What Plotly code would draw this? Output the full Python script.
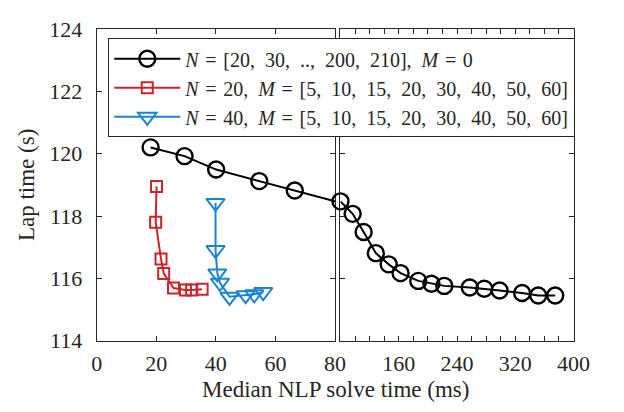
import numpy as np
import plotly.graph_objects as go

# ---- data ----
black_x = [18.1, 29.5, 40.1, 54.6, 66.5, 80.0, 96.7, 111.8, 128.5, 146.2, 162.5,
           186.8, 204.9, 222.5, 257.5, 277.4, 298.5, 329.4, 351.5, 374.8]
black_y = [120.2, 119.92, 119.49, 119.12, 118.82, 118.47, 118.07, 117.49, 116.81,
           116.45, 116.17, 115.92, 115.83, 115.76, 115.71, 115.67, 115.61, 115.53,
           115.45, 115.45]

red_x = [20.1, 19.8, 21.6, 22.5, 25.8, 29.8, 31.9, 35.4]
red_y = [118.95, 117.8, 116.62, 116.16, 115.69, 115.63, 115.63, 115.65]

blue_x = [39.9, 39.9, 40.5, 41.4, 44.6, 50.0, 52.9, 55.9]
blue_y = [118.42, 116.91, 116.16, 115.86, 115.41, 115.46, 115.49, 115.56]

EN = "\u2002"   # en space (math-like wide spacing)
TH = "\u2004"   # three-per-em space
labels = [f"<i>N</i>{TH}={TH}[20,{EN}30,{EN}..,{EN}200,{EN}210],{EN}<i>M</i>{TH}={TH}0",
          f"<i>N</i>{TH}={TH}20,{EN}<i>M</i>{TH}={TH}[5,{EN}10,{EN}15,{EN}20,{EN}30,{EN}40,{EN}50,{EN}60]",
          f"<i>N</i>{TH}={TH}40,{EN}<i>M</i>{TH}={TH}[5,{EN}10,{EN}15,{EN}20,{EN}30,{EN}40,{EN}50,{EN}60]"]

left_ticks = [0, 20, 40, 60, 80]
right_ticks = [160, 240, 320, 400]
y_ticks = [114, 116, 118, 120, 122, 124]

# ---- styles ----
W, H = 624, 412
TXT = "#262626"
BLACK = "#000000"
RED = "#CC2229"
BLUE = "#1B84D2"
FONT = "Liberation Serif"

bx = np.array(black_x)
by = np.array(black_y)
right_mask = bx >= 80
left_opacity = np.where(bx < 80, 1.0, 0.0)

circle = dict(symbol="circle-open", size=16, color=BLACK, line=dict(width=2.4, color=BLACK))
square = dict(symbol="square-open", size=11, color=RED, line=dict(width=2, color=RED))
tri = dict(symbol="triangle-down-open", size=16, color=BLUE, line=dict(width=2, color=BLUE))

fig = go.Figure()
# legend entries (no data drawn)
for name, col, mk in [(labels[0], BLACK, circle), (labels[1], RED, square), (labels[2], BLUE, tri)]:
    fig.add_trace(go.Scatter(x=[None], y=[None], mode="lines+markers", name=name,
                             line=dict(color=col, width=2), marker=mk,
                             xaxis="x", yaxis="y"))

fig.add_trace(go.Scatter(x=black_x, y=black_y, mode="lines+markers", showlegend=False,
                         line=dict(color=BLACK, width=2),
                         marker=dict(circle, opacity=left_opacity),
                         xaxis="x", yaxis="y"))
fig.add_trace(go.Scatter(x=red_x, y=red_y, mode="lines+markers", showlegend=False,
                         line=dict(color=RED, width=2), marker=square,
                         xaxis="x", yaxis="y"))
fig.add_trace(go.Scatter(x=blue_x, y=blue_y, mode="lines+markers", showlegend=False,
                         line=dict(color=BLUE, width=2), marker=tri,
                         xaxis="x", yaxis="y"))
fig.add_trace(go.Scatter(x=bx[right_mask], y=by[right_mask], mode="lines+markers",
                         showlegend=False, cliponaxis=False,
                         line=dict(color=BLACK, width=2), marker=circle,
                         xaxis="x2", yaxis="y2"))

axis_common = dict(showline=True, linecolor=TXT, linewidth=1, mirror="ticks",
                   ticks="inside", ticklen=5, tickcolor=TXT, tickwidth=1,
                   showgrid=False, zeroline=False,
                   tickfont=dict(family=FONT, size=22, color=TXT))

xl, xr = 94, 341
x2l, x2r = 346.7, 588.3
yt, yb = 18, 350

fig.update_layout(
    width=W, height=H,
    margin=dict(l=0, r=0, t=0, b=0),
    paper_bgcolor="white", plot_bgcolor="white",
    font=dict(family=FONT, size=22, color=TXT),
    xaxis=dict(domain=[xl / W, xr / W], range=[0, 80], tickvals=left_ticks,
               anchor="y", ticklabelstandoff=3, **axis_common),
    xaxis2=dict(domain=[x2l / W, x2r / W], range=[80, 400], tickvals=right_ticks,
                minor=dict(dtick=20, tick0=80, ticks="inside", ticklen=5,
                           tickcolor=TXT, tickwidth=1),
                anchor="y2", ticklabelstandoff=3, **axis_common),
    yaxis=dict(domain=[(H - yb) / H, (H - yt) / H], range=[114, 124], tickvals=y_ticks,
               anchor="x", ticklabelstandoff=9, **axis_common),
    yaxis2=dict(domain=[(H - yb) / H, (H - yt) / H], range=[114, 124], tickvals=y_ticks,
                anchor="x2", matches="y", showticklabels=False, **axis_common),
    legend=dict(x=106 / W, y=(H - 28) / H, xanchor="left", yanchor="top",
                bgcolor="white", bordercolor=TXT, borderwidth=1,
                font=dict(family=FONT, size=20, color=TXT),
                itemwidth=66, tracegroupgap=0),
    showlegend=True,
    annotations=[
        dict(text="Median NLP solve time (ms)", xref="paper", yref="paper",
             x=(xl + x2r) / 2 / W, y=0, showarrow=False,
             xanchor="center", yanchor="bottom", yshift=-5,
             font=dict(family=FONT, size=23, color=TXT)),
        dict(text="Lap time (s)", xref="paper", yref="paper",
             x=22 / W, y=(H - 184) / H, showarrow=False, textangle=-90,
             xanchor="center", yanchor="middle",
             font=dict(family=FONT, size=23, color=TXT)),
    ],
)

fig.write_html("out.html")
